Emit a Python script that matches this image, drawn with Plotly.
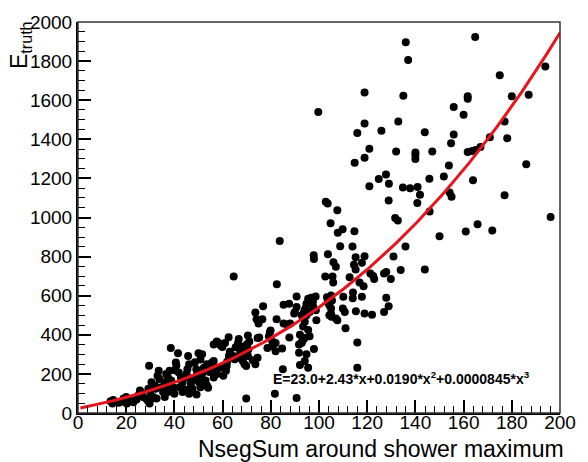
import numpy as np
import plotly.graph_objects as go

# NsegSum around shower maximum (x) and true energy (y) for each event
nseg = [
    13.5, 14.3, 14.6, 16.9, 18.3, 18.9, 19.6, 20.0, 20.3, 22.0, 23.0, 24.3, 25.0, 25.7, 26.4,
    27.0, 28.4, 29.1, 29.7, 29.5, 29.2, 29.9,
    30.4, 30.5, 31.2, 31.9, 32.2, 32.6, 33.0, 33.5, 33.8, 34.6, 35.3, 36.0, 36.0, 36.2, 36.6,
    36.6, 37.3, 37.3, 38.0, 38.5, 38.7, 39.4, 40.0, 40.3, 40.6, 40.8, 41.5, 41.8, 42.1, 42.7,
    43.4, 43.4, 44.5, 45.0, 45.4, 45.7, 45.8, 46.1, 46.1, 46.8, 47.5, 48.0, 48.5, 49.1, 49.2,
    49.4, 49.8, 50.0,
    50.2, 50.8, 50.8, 51.5, 51.5, 52.2, 52.9, 53.5, 53.5, 54.0, 54.5, 55.6, 55.6, 56.3, 56.3,
    56.3, 56.9, 57.6, 57.6, 58.3, 59.0, 59.2, 59.9, 60.3, 61.0, 61.4, 61.7, 61.9, 62.5, 62.6,
    63.0, 64.4, 64.6, 65.0, 65.4, 66.4, 66.4, 66.7, 67.1, 67.3, 67.7, 68.4, 69.1, 69.1, 69.1,
    69.8, 69.8, 70.2, 70.5, 70.5, 70.7, 71.1,
    72.5, 73.6, 73.6, 74.1, 74.5, 74.5, 74.9, 75.2, 76.5, 76.8, 78.6, 79.2, 79.6, 79.9, 80.6,
    80.6, 81.7, 82.0, 82.0, 82.4, 82.5, 83.7, 84.7, 85.0, 85.3, 85.3, 86.7, 87.6, 87.7, 88.0,
    89.7,
    90.0, 90.7, 90.7, 90.7, 91.7, 91.7, 92.1, 92.1, 92.8, 92.8, 93.0, 93.4, 93.4, 93.8, 94.1,
    94.1, 94.1, 94.1, 94.4, 94.8, 94.8, 94.8, 95.5, 95.5, 95.5, 96.1, 96.1, 96.1, 96.8, 97.5,
    97.5, 97.8, 97.9, 97.9, 98.6, 98.7, 98.9, 99.7,
    102.6, 102.8, 103.3, 103.6, 103.6, 103.7, 104.3, 104.3, 104.8, 105.0, 105.0, 105.0, 105.2,
    105.4, 105.6, 105.9, 106.0, 107.0, 107.0, 107.6, 107.6, 107.8, 108.8, 109.8, 109.9, 110.1,
    110.7, 111.0, 112.7, 113.9, 114.0, 114.1, 114.5, 114.7, 114.8, 115.2, 115.2, 115.3, 115.9,
    115.9, 115.9, 116.8, 117.8, 117.8, 118.5, 118.9, 118.9, 118.9, 118.9, 118.9,
    120.9, 120.9, 121.3, 122.0, 122.5, 122.9, 124.8, 125.9, 127.0, 127.0, 127.8, 127.9, 127.9,
    128.9, 128.9, 129.0, 129.8, 130.9, 131.6, 132.0, 132.7, 132.9, 133.9, 134.8, 135.0, 135.9,
    136.0, 137.0, 137.8,
    140.0, 140.0, 140.0, 140.8, 140.9, 141.9, 143.9, 143.9, 145.8, 145.9, 147.0, 150.0, 151.8,
    153.9, 154.2, 154.8, 155.0, 155.9, 155.9, 160.0, 160.9, 161.7, 161.7, 161.7, 163.6, 163.9,
    164.8, 165.0, 165.8, 167.0, 170.9, 171.9, 175.0, 177.0, 177.0, 178.1, 180.0, 186.0, 187.0,
    193.9, 196.1,
]
etruth = [
    60, 48, 66, 52, 57, 74, 65, 82, 49, 62, 55, 69, 90, 115, 102,
    82, 72, 62, 49, 242, 124, 107,
    74, 157, 82, 141, 124, 74, 191, 216, 174, 132, 107, 149, 82, 157, 124,
    199, 107, 182, 216, 333, 166, 132, 99, 219, 258, 243, 305, 207, 132, 182,
    157, 107, 120, 199, 224, 291, 182, 249, 99, 149, 124, 170, 260, 224, 94,
    199, 182, 305,
    157, 132, 274, 300, 199, 232, 166, 249, 141, 129, 210, 224, 258, 350, 182,
    266, 232, 199, 366, 358, 232, 345, 338, 191, 358, 216, 241, 262, 388, 291,
    313, 291, 698, 275, 336, 358, 283, 378, 333, 308, 333, 266, 300, 341, 249,
    241, 74, 353, 291, 397, 325, 366,
    270, 249, 514, 480, 283, 383, 458, 386, 480, 546, 333, 392, 413, 422, 366,
    341, 99, 358, 316, 480, 659, 880, 330, 224, 554, 458, 453, 559, 386, 458,
    509,
    517, 542, 596, 77, 350, 308, 400, 246, 358, 500, 366, 442, 375, 517, 467,
    526, 383, 266, 534, 500, 559, 300, 584, 425, 232, 567, 517, 392, 589, 571,
    547, 807, 788, 328, 596, 526, 475, 1540,
    698, 1081, 592, 567, 1071, 812, 551, 500, 970, 601, 534, 508, 492,
    576, 698, 668, 771, 748, 483, 475, 1037, 922, 853, 940, 534, 594,
    517, 433, 694, 852, 587, 617, 758, 930, 1280, 797, 734, 521, 1432,
    360, 232, 668, 594, 768, 648, 802, 509, 1640, 1481, 1305,
    1352, 1160, 714, 503, 701, 686, 1197, 1444, 713, 517, 1220, 721, 589,
    546, 1087, 1173, 686, 800, 997, 1337, 985, 1491, 731, 1153, 1623, 852,
    1896, 1806, 1150,
    1332, 1320, 1299, 1074, 1156, 1116, 1436, 734, 1198, 1031, 1337, 904, 1210,
    1266, 1128, 1380, 1106, 1565, 1424, 1525, 929, 1620, 1608, 1335, 1340, 1191,
    1923, 1345, 965, 1360, 1411, 934, 1727, 1491, 1114, 1406, 1620, 1273, 1628,
    1772, 1002,
]

# cubic fit parameters
p0, p1, p2, p3 = 23.0, 2.43, 0.0190, 0.0000845
fit_x = np.linspace(1, 200, 300)
fit_y = p0 + p1 * fit_x + p2 * fit_x ** 2 + p3 * fit_x ** 3

FONT = "Liberation Sans, Arial, Helvetica, sans-serif"

fig = go.Figure()
fig.add_trace(go.Scatter(
    x=nseg, y=etruth, mode="markers",
    marker=dict(size=8, color="black", line=dict(width=0)),
    showlegend=False, hoverinfo="skip",
))
fig.add_trace(go.Scatter(
    x=fit_x, y=fit_y, mode="lines",
    line=dict(color="#e8141c", width=3),
    showlegend=False, hoverinfo="skip",
))

fit_label = (f"E={p0:.1f}+{p1:.2f}*x+{p2:.4f}*x<sup>2</sup>"
             f"+{p3:.7f}*x<sup>3</sup>")
fig.add_annotation(
    x=80, y=178, xref="x", yref="y", xanchor="left", yanchor="middle",
    text=f"<b>{fit_label}</b>", showarrow=False,
    font=dict(family=FONT, size=14, color="black"),
)

# axis titles, right/top aligned
fig.add_annotation(
    x=1, y=0, xref="paper", yref="paper", xanchor="right", yanchor="top",
    xshift=6, yshift=-21,
    text="NsegSum around shower maximum", showarrow=False,
    font=dict(family=FONT, size=23, color="black"),
)
fig.add_annotation(
    x=0, y=1, xref="paper", yref="paper", xanchor="center", yanchor="top",
    xshift=-58, yshift=3, textangle=-90,
    text="E<sub>truth</sub>", showarrow=False,
    font=dict(family=FONT, size=23, color="black"),
)

# thin box around the frame
fig.add_shape(type="rect", xref="paper", yref="paper", x0=0, y0=0, x1=1, y1=1,
              line=dict(color="#333333", width=1.5), layer="above")

axis_common = dict(
    showgrid=False, zeroline=False, showline=True, linecolor="black", linewidth=2,
    ticks="inside", ticklen=13, tickwidth=1.5, tickcolor="black",
    tickfont=dict(family=FONT, size=19, color="black"),
)
fig.update_xaxes(
    range=[0, 200], tick0=0, dtick=20, ticklabelstandoff=-9, **axis_common,
    minor=dict(ticks="inside", ticklen=7, dtick=4, tickwidth=1.2, tickcolor="black"),
)
fig.update_yaxes(
    range=[0, 2000], tick0=0, dtick=200, **axis_common,
    minor=dict(ticks="inside", ticklen=7, dtick=50, tickwidth=1.2, tickcolor="black"),
)

fig.update_layout(
    width=588, height=462, autosize=False,
    margin=dict(l=78, r=17, t=14, b=49),
    paper_bgcolor="white", plot_bgcolor="white",
    font=dict(family=FONT, color="black"),
)

fig.write_html("out.html")
